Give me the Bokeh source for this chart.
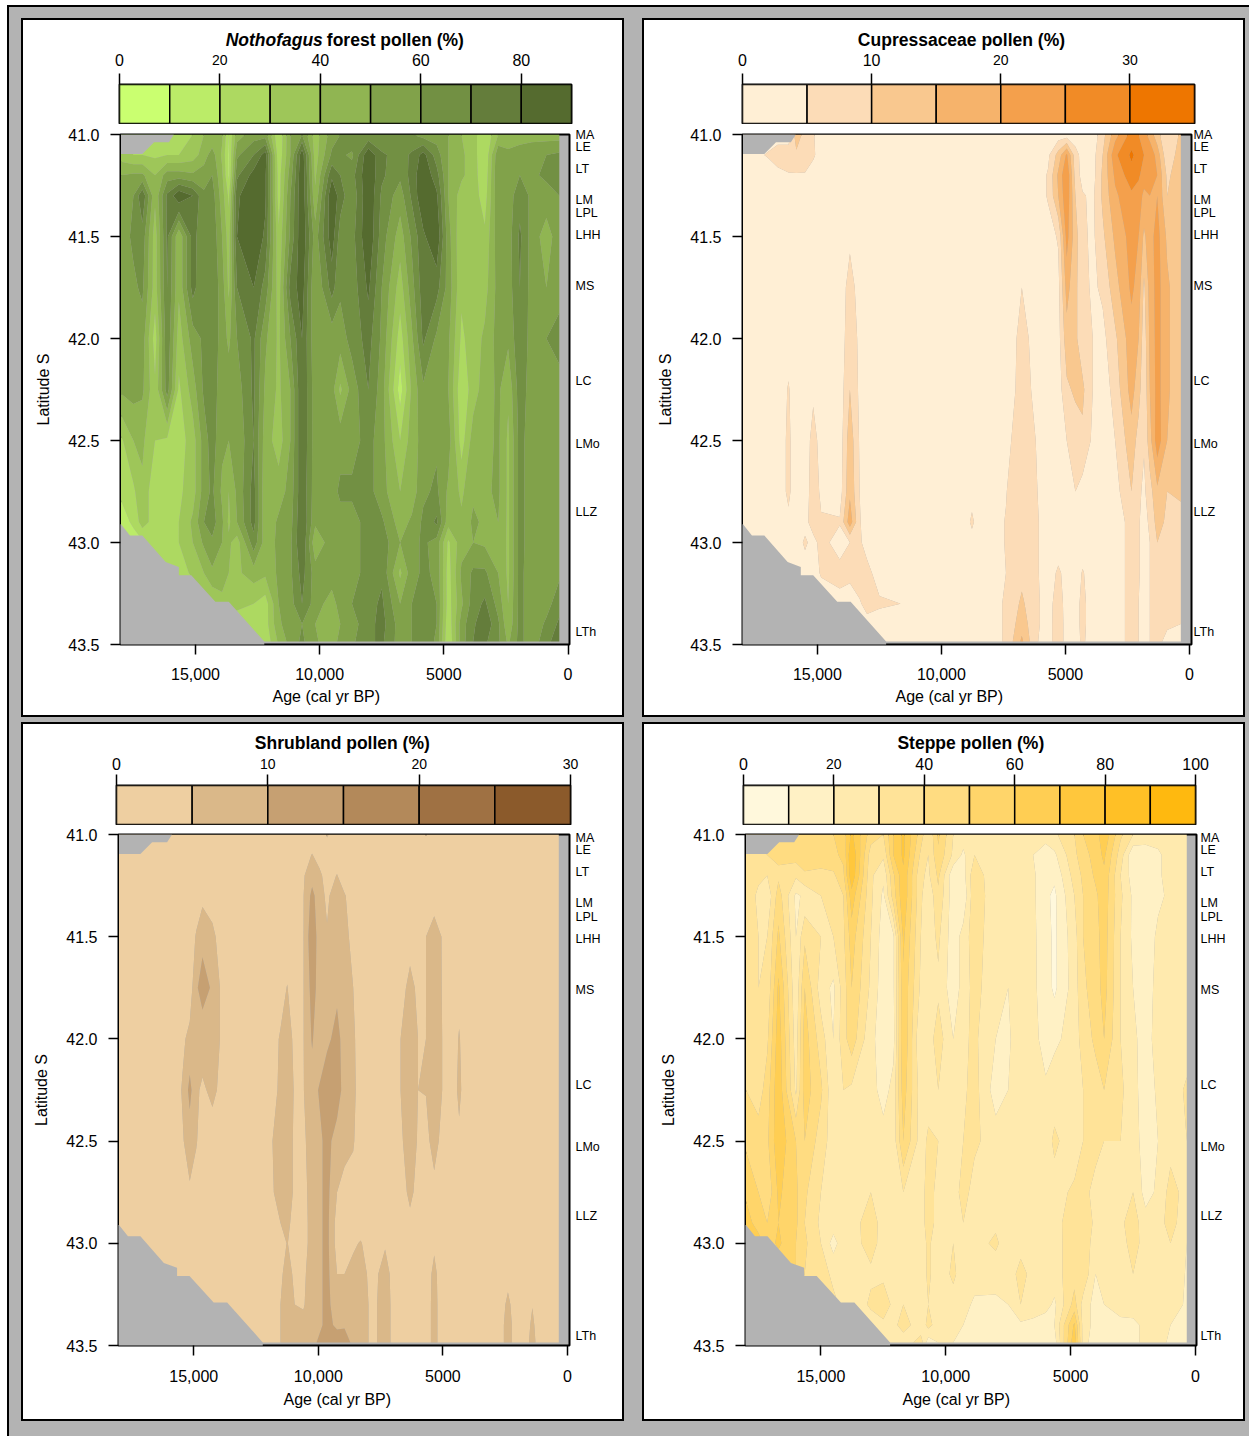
from bokeh.embed import file_html
from bokeh.resources import INLINE
from bokeh.plotting import figure
from bokeh.layouts import column, row
from bokeh.models import Range1d, FixedTicker, LinearAxis, Title
from bokeh.core.properties import value
import numpy as np

n = float("nan")
FONT = "Liberation Sans"
GRAY = "#b3b3b3"

# ---------- latitude rows shared by the data grids ----------
latitudes = [41.0, 41.1, 41.2, 41.3, 41.5, 41.75, 42.0, 42.25, 42.5, 42.75, 42.9, 43.0, 43.15, 43.3, 43.4, 43.485]

# ---------- Nothofagus forest pollen (%), one row per latitude ----------
noth_ages = [18000, 17500, 17140, 16630, 16140, 15670, 15110, 14660, 14330, 13930,
             13660, 13330, 12660, 12190, 11650, 11180, 10710, 10180, 9510, 9170,
             8700, 8040, 7500, 6760, 6290, 5830, 5290, 4820, 4290, 3820,
             3350, 2810, 2410, 1940, 1470, 870, 350]
nothofagus = [
 [30,30,30,30,30,30,30,40,40,42, 20,45,55,55,20,50,60,35,55,60, 70,62,60,60,60,55,55,50,40,35, 20,40,45,45,45,45,45],
 [35,30,30,28,30,30,35,45,55,38, 18,58,70,85,22,50,87,35,62,62, 58,88,72,65,72,84,65,50,42,35, 20,58,52,55,58,60,62],
 [50,52,52,40,55,55,52,55,60,42, 18,68,84,82,25,55,89,38,78,70, 66,89,72,62,74,89,74,50,42,35, 22,60,52,60,58,62,68],
 [56,60,78,42,72,88,80,62,65,45, 28,78,89,82,25,60,89,42,89,75, 62,89,68,55,72,89,82,50,35,35, 25,58,55,66,58,56,60],
 [55,62,66,35,72,42,74,62,68,50, 35,80,89,78,32,62,89,55,86,65, 66,89,65,45,62,78,89,54,32,32, 32,56,55,72,56,45,56],
 [52,58,62,35,70,42,74,60,68,55, 38,70,80,66,35,74,85,50,74,62, 64,82,60,35,56,76,74,56,32,32, 36,54,55,70,56,50,58],
 [52,54,55,25,68,35,55,62,68,55, 48,60,72,52,38,60,80,52,54,55, 64,74,58,25,48,72,58,52,28,35, 42,54,52,68,56,60,62],
 [52,54,52,32,65,28,45,62,68,52, 55,55,72,48,38,50,80,54,54,38, 54,70,55,15,42,58,54,50,22,35, 45,52,42,66,55,58,58],
 [28,40,42,30,28,25,35,55,65,52, 50,52,70,45,35,50,80,54,56,56, 56,64,54,30,45,54,58,55,25,45, 46,52,38,64,54,56,58],
 [22,28,38,22,25,28,35,55,62,48, 40,52,74,42,45,54,78,54,56,62, 62,64,54,40,44,58,62,48,38,48, 48,52,38,64,54,56,58],
 [15,22,35,25,30,30,42,60,65,52, 38,50,74,42,52,56,80,52,55,56, 56,64,62,45,52,62,72,44,42,52, 48,50,38,64,54,56,58],
 [15,15,18,25,28,30,40,52,58,50, 42,35,66,45,52,58,80,42,56,56, 56,64,66,50,56,62,56,28,46,50, 48,48,38,64,54,56,58],
 [n,n,15,15,18,25,32,40,48,48, 40,38,45,42,52,58,74,55,56,52, 56,64,68,38,56,62,58,25,52,62, 62,50,38,64,52,56,58],
 [n,n,n,n,15,15,20,25,30,35, 38,35,30,25,50,56,70,55,45,55, 60,66,72,50,60,64,60,25,48,65, 72,56,40,64,52,56,66],
 [n,n,n,n,n,n,n,15,15,15, 18,20,22,25,48,56,60,50,42,50, 56,66,74,55,60,66,60,22,55,68, 78,62,42,64,52,62,72],
 [n,n,n,n,n,n,n,n,15,15, 15,15,18,22,42,54,62,52,42,55, 58,68,72,55,60,68,58,20,55,70, 72,62,48,64,52,68,74],
]

# ---------- Steppe pollen (%), one row per latitude ----------
steppe_ages = [18000, 17500, 17150, 16700, 16000, 15650, 15000, 14500, 14100, 13770,
               13000, 12500, 12100, 11700, 11000, 10700, 10300, 9700, 9300, 8850,
               8000, 7500, 7000, 6500, 6000, 5650, 4850, 4500, 4000, 3660,
               3000, 2500, 2000, 1500, 1000, 500, 350]
steppe = [
 [42,42,42,42,42,45,48,50,55,72, 45,40,60,72,45,30,52,30,25,22, 25,25,28,28,25,28,40,50,55,68, 42,30,25,25,25,25,25],
 [38,38,40,42,45,48,50,48,52,80, 35,32,60,72,38,30,48,28,18,30, 20,22,26,20,14,18,38,45,55,62, 35,12,15,18,25,25,25],
 [35,32,30,38,32,38,35,38,48,78, 32,22,48,68,32,28,42,12,16,38, 20,22,26,22,12,12,34,42,52,58, 30,15,14,18,25,28,30],
 [36,28,22,45,18,22,30,38,40,66, 32,18,45,68,32,22,38,14,12,38, 22,22,26,22,12,8,30,40,48,56, 32,18,14,18,22,22,22],
 [35,30,30,52,20,38,30,30,38,55, 30,15,18,62,30,25,32,14,24,36, 22,24,28,22,14,8,26,40,46,55, 30,18,14,22,25,25,25],
 [35,30,32,62,22,50,25,18,35,50, 28,14,18,58,28,22,28,14,24,34, 22,20,28,22,15,8,25,38,45,54, 30,20,14,24,25,25,25],
 [38,32,38,66,25,55,35,20,36,46, 22,16,16,60,20,25,35,20,28,32, 20,18,28,24,15,18,24,35,42,50, 30,22,16,24,28,26,24],
 [40,35,45,68,28,55,42,22,30,28, 25,15,24,55,25,25,30,28,28,34, 15,20,28,26,22,25,25,30,36,40, 32,24,14,22,26,30,32],
 [48,45,48,68,50,50,35,25,28,26, 30,25,24,50,25,32,30,24,30,32, 25,26,28,28,25,32,24,30,34,30, 30,28,12,20,26,28,30],
 [58,50,42,62,52,42,30,25,28,25, 30,26,26,30,22,38,24,25,34,26, 26,26,26,28,24,26,32,34,26,22, 28,30,16,22,34,28,30],
 [65,55,50,60,52,40,28,25,20,25, 36,25,26,25,22,38,24,25,30,26, 28,26,26,26,24,25,38,36,28,26, 28,35,24,26,34,26,22],
 [65,65,55,62,50,42,30,16,26,26, 34,26,28,25,25,32,24,30,26,26, 32,24,26,26,24,26,36,38,24,22, 28,32,28,26,30,24,20],
 [n,n,52,52,50,40,34,28,26,24, 28,28,30,28,24,32,24,32,25,25, 24,24,34,26,24,26,36,38,20,24, 28,30,28,24,30,22,18],
 [n,n,n,n,40,36,34,32,28,22, 32,35,28,30,22,30,22,26,24,18, 18,20,30,28,24,18,44,26,16,20, 26,28,26,26,22,20,15],
 [n,n,n,n,n,n,n,28,28,24, 24,28,26,36,22,34,24,24,20,16, 16,18,18,16,14,20,62,26,16,14, 16,16,24,26,20,18,15],
 [n,n,n,n,n,n,n,n,22,22, 22,24,28,22,36,14,20,20,18,15, 14,16,15,14,18,15,68,26,12,14, 15,18,22,24,18,15,15],
]

# ---------- Cupressaceae pollen (%), one column per age ----------
T = [2] * 16  # trace level, no visible signal at this age
cupressaceae = {
 18000: T,
 17000: [2,5.5,2,2,2,2,2,2,2,2,2,2,2,2,2,2],
 16600: [2,8,3,2,2,2,2,2,2,2,2,2,2,2,2,2],
 16165: [2,8,4.5,2,2,2,3,5.4,6,6,4,2,2,2,2,2],
 15850: [13,9,4.5,2,2,2,2,2,2,2,2,2,2,2,2,2],
 15500: [8,8,4.5,2,2,2,2,2,2,2,3,6,2,2,2,2],
 15170: [5.5,6,2,2,2,2,3,4,7,8,8,3,3,2,2,2],
 14850: [2,2,2,2,2,2,2,2,3,4,5.5,7,5.5,2,2,2],
 14100: [2,2,2,2,2,2,2,2,2,2.5,5.5,2.5,7,3,2,2],
 13690: [2,2,2,2,4,7,8,10,13,14,18,5,6,3,2,2],
 13300: [2,2,2,2,2,3,4,4,4.5,5,5.5,6,10,4,2,2],
 13000: [2,2,2,2,2,2,2,2,2,2,2,2.5,7,8,2,2],
 12500: [2,2,2,2,2,2,2,2,2,2,2,2,2,6,2,2],
 9100: T,
 8770: [2,2,2,2,2,2,2,2,2,3,6,3,2,2,2,2],
 8450: T,
 7400: [2,2,2,2,2,2,2,2,3.5,4.8,5.2,5.2,5,5.5,5.5,5.5],
 6760: [2,2,2,2,3,5,6.5,7,8,8.5,9,9,8.5,11,13,16],
 6200: [2,2,2,2,2,2.5,3.5,4,5,5.5,6,6,6,6,6,5.5],
 5700: [2,4,5.5,5.5,3,2,2,2,2,2,2,2,2,3,3,3],
 5290: [2,12,16,15,5.5,3.5,3,2.5,2,2,2,2,6,7.5,8,8],
 4950: [2,21,25,24,22,17,13,9,5,3,2,2,3,3,3,3],
 4600: [2,7,8,10,12,11,11,11,7,5,2,2,2,3,3,3],
 4310: [2,3,3,5.5,6,7,7,11,9,3,2,2,5.5,6.5,6.5,6],
 3900: [2,3,3,4,4,4,5,5,4,2,2,2,2,2,2,2],
 3500: [8,10,11,11,9,6,3.5,2,2,2,2,2,2,2,2,2],
 3000: [18,24,21,19,16,13,9,7,5,3,2,2,2,2,2,2],
 2340: [27,31,28,24,22,21,18,17,13,10,7,7,7,7,7,7],
 2050: [25,28,26,22,20,18,15,12,8,6,5.5,5.5,5.5,5,5,5],
 1835: [22,25,22,19,14,9,7,6,5.5,4,3,3,3,3,3,3],
 1600: [18,24,21,20,18,17,16,15,13,8,6,5,5,5,5,5],
 1300: [12,18,20,20,22,22,22,22,23,14,12,10,6.5,6,6,6],
 900: [5,6,9,10,14,16,16,16,15,10,9,9,7,6,5.5,4],
 350: [11,13,13,12,11,11,11,11,11,11,8,7,6,5.5,5,3],
}

# ---------- Shrubland pollen (%), one column per age ----------
shrubland = {
 18000: T,
 15800: T,
 15450: [2,2,2,2,2,2,4,5.5,4.5,2,2,2,2,2,2,2],
 15160: [2,2,2,2,2,2,6.5,11.5,7.5,4.3,2,2,2,2,2,2],
 14900: [2,2,2,2,5.5,9.5,7,6,5.5,2,2,2,2,2,2,2],
 14650: [2,2,2,3.5,9,11.5,8,4,2,2,2,2,2,2,2,2],
 14250: [2,2,2,2,6.5,9.5,8,6.5,2,2,2,2,2,2,2,2],
 13950: [2,2,2,2,3,5,5,4,2,2,2,2,2,2,2,2],
 12000: [2,2,2,2,2,2,2,2,4,3,2,2,2,2,2,2],
 11520: [2,2,2,2,2,3,5.5,6,7,7.5,5,3,4,5,5,5],
 11250: [2,2,2,2,2,5.2,7,8,8,8,6,5.2,7,8,8,8],
 10950: [2,2,2,2,2,2,4,4.5,4,4,3.5,3,4,5,8,8],
 10600: [2,3,4.5,4.8,4.8,4.8,4.8,4.8,4,3,3,3,4,4.5,6.5,8],
 10250: [2,5.2,8,11.5,14,12,10.5,8,7.5,7.5,7,7,7.5,8,8.5,8.5],
 9950: [2,3,6,7,7,8,6.5,10.5,9,9,9,9,9,9,9,11],
 9650: [5.5,2,3,4,5.5,8,9,13,11.5,11.5,11.5,11.5,11.5,11.5,11.5,13],
 9250: [2,2,5.2,8,8.5,9,11.5,12.5,8,5,3,3,5,7,9,13],
 8950: [2,2,2,5.5,7,8,8,8,7,3,2,2,5,8,9.5,12],
 8600: [2,2,2,2,3,5,6,6.5,5.5,3,2,4,7,7,7,9],
 8300: [2,2,2,2,2,2,2,2,2,2,2,5.5,7,8,8,8],
 8050: [2,2,2,2,2,2,2,2,2,2,2,3,5,5.5,5.5,5.5],
 7800: [2,2,2,2,2,2,2,2,2,2,2,2,3.5,3.5,3.5,3.5],
 7320: [2,2,2,2,2,2,2,2,2,2,2,4.5,7,8,8,8],
 7000: [2,2,2,2,2,2,2,2,2,2,2,2,3.5,3.5,3.5,3.5],
 6700: [2,2,2,2,2,3,5,5,4,2,2,2,2,2,2,2],
 6320: [2,2,2,2,3,6.5,8,8,8,6.5,3.5,2,2,2,2,2],
 6000: [2,2,2,2,2,4,5,5,4.5,3,2,2,2,2,2,2],
 5680: [5.3,2,2,2,5,5,5,5.2,3.5,2,2,2,2,2,2,2],
 5350: [2,2,3,3,7,8,8,8,7,3.5,2,4,6.5,7,7,7],
 5030: [2,2,2,2,4.8,4.8,5,5,3.5,2,2,2,2,2,2,2],
 4600: T,
 4350: [2,2,2,2,2,3,5.5,6.5,3.6,2,2,2,2,2,2,2],
 4100: T,
 2800: T,
 2390: [2,2,2,2,2,2,2,2,2,2,2,2,3.5,6,7,7],
 2000: T,
 1750: T,
 1410: [2,2,2,2,2,2,2,2,2,2,2,2,2,4.8,6,7],
 1100: T,
 350: T,
}

# ---------- areas without records ----------
gap_top_age = [18000, 18000, 17140, 16670, 16070, 15870]
gap_top_lat = [41.0, 41.095, 41.095, 41.038, 41.038, 41.0]
gap_low_age = [18100, 18100, 18000, 17640, 17140, 16200, 15670, 15670, 15170, 14200, 13660, 12230, 12230]
gap_low_lat = [43.6, 42.91, 42.91, 42.966, 42.966, 43.096, 43.12, 43.16, 43.16, 43.29, 43.29, 43.485, 43.6]

# ---------- tick labels and sites ----------
lat_ticks = [41.0, 41.5, 42.0, 42.5, 43.0, 43.5]
lat_tick_labels = ["41.0", "41.5", "42.0", "42.5", "43.0", "43.5"]
age_ticks = [15000, 10000, 5000, 0]
age_tick_labels = ["15,000", "10,000", "5000", "0"]
site_lats = [41.0, 41.06, 41.167, 41.32, 41.387, 41.495, 41.745, 42.21, 42.515, 42.85, 43.44]
site_lats_lower = [41.015, 41.075, 41.182, 41.335, 41.402, 41.51, 41.76, 42.225, 42.53, 42.865, 43.455]
site_names = ["MA", "LE", "LT", "LM", "LPL", "LHH", "MS", "LC", "LMo", "LLZ", "LTh"]

# ---------- colour scales ----------
noth_levels = [0, 10, 20, 30, 40, 50, 60, 70, 80, 90]
noth_colors = ["#caff70", "#bbec68", "#add961", "#9ec659", "#90b552", "#81a24a", "#729043", "#647d3b", "#556b2f"]
cup_levels = [0, 5, 10, 15, 20, 25, 30, 35]
cup_colors = ["#ffefd5", "#fcdcb7", "#f9c88f", "#f6b36b", "#f4a04c", "#f18b26", "#ee7600"]
shrub_levels = [0, 5, 10, 15, 20, 25, 30]
shrub_colors = ["#eecfa1", "#dab889", "#c6a072", "#b3895a", "#9f7143", "#8b5a2b"]
steppe_levels = [0, 10, 20, 30, 40, 50, 60, 70, 80, 90, 100]
steppe_colors = ["#fff8dc", "#fff1c5", "#ffeaae", "#ffe398", "#ffdc81", "#ffd56a", "#ffce53", "#ffc73c", "#ffc026", "#ffb90f"]


def grid_from_rows(ages, rows):
    return np.array(ages[::-1], float), np.array(rows, float)[:, ::-1]


def grid_from_cols(cols):
    a = sorted(cols)
    return np.array(a, float), np.array([cols[k] for k in a], float).T


def build(title_parts, levels, colors, ages, z, big, small, c):
    bar_w = 600 - c["bar_l"] - c["bar_r"]
    per_px = levels[-1] / bar_w
    # header strip: title and colour-scale labels, on the colour bar's own x scale
    h = figure(width=600, height=c["head_h"], x_range=Range1d(-c["bar_l"] * per_px, (600 - c["bar_l"]) * per_px),
               y_range=Range1d(c["head_h"], 0), x_axis_location=None, y_axis_location=None, toolbar_location=None,
               output_backend="svg", min_border=0, min_border_left=0, min_border_right=0, min_border_top=0,
               min_border_bottom=0, outline_line_color=None, border_fill_color="white", background_fill_color="white")
    h.xgrid.visible = False
    h.ygrid.visible = False
    h.text(x=big, y=[c["tick_cy"]] * len(big), text=[str(t) for t in big], text_font=value(FONT),
           text_font_size="16px", text_color="black", text_align="center", text_baseline="middle")
    h.text(x=small, y=[c["tick_cy"]] * len(small), text=[str(t) for t in small], text_font=value(FONT),
           text_font_size="14px", text_color="black", text_align="center", text_baseline="middle")
    for text, style, align, off in title_parts:
        h.text(x=[levels[-1] * c["title_x"] + off * per_px], y=[c["title_cy"]], text=[text], text_font=value(FONT),
               text_font_size="17.5px", text_font_style=style, text_color="black", text_align=align,
               text_baseline="middle")

    top = figure(width=600, height=52, x_range=Range1d(levels[0], levels[-1]), y_range=Range1d(0, 1),
                 x_axis_location="above", y_axis_location=None, toolbar_location=None, output_backend="svg",
                 min_border_left=c["bar_l"], min_border_right=c["bar_r"], min_border_top=12,
                 min_border_bottom=1, outline_line_color="black", outline_line_width=2,
                 border_fill_color="white")
    top.xgrid.visible = False
    top.ygrid.visible = False
    top.quad(left=levels[:-1], right=levels[1:], bottom=0, top=1, fill_color=colors, line_color="black", line_width=1.5)
    ticks = big + small
    ax = top.xaxis[0]
    ax.ticker = FixedTicker(ticks=ticks)
    ax.major_label_overrides = {t: "" for t in ticks}
    ax.axis_line_color = None
    ax.major_tick_in = 0
    ax.major_tick_out = 11
    ax.major_tick_line_width = 1.5
    ax.major_tick_line_color = "black"
    ax.minor_tick_line_color = None
    ax.major_label_standoff = 0
    ax.major_label_text_font_size = "1px"

    p = figure(width=600, height=c["main_h"], x_range=Range1d(18020, c["right"]), y_range=Range1d(43.5, 41.0),
               toolbar_location=None, output_backend="svg", min_border_left=c["main_l"], min_border_right=c["main_r"],
               min_border_top=c["main_t"], min_border_bottom=c["main_b"], background_fill_color=GRAY,
               border_fill_color="white", outline_line_color="black", outline_line_width=2)
    p.xgrid.visible = False
    p.ygrid.visible = False
    p.contour(ages, np.array(latitudes), z, levels, fill_color=colors, line_color=None)
    p.patch(gap_top_age, gap_top_lat, fill_color=GRAY, line_color=None)
    p.patch(gap_low_age, gap_low_lat, fill_color=GRAY, line_color=None)

    xa, ya = p.xaxis[0], p.yaxis[0]
    xa.ticker = FixedTicker(ticks=age_ticks)
    xa.major_label_overrides = dict(zip(age_ticks, age_tick_labels))
    ya.ticker = FixedTicker(ticks=lat_ticks)
    ya.major_label_overrides = dict(zip(lat_ticks, lat_tick_labels))
    ya.major_label_orientation = "horizontal"
    ya.axis_label = "Latitude S"
    for a in (xa, ya):
        a.axis_line_color = None
        a.major_tick_in = 0
        a.major_tick_out = 10
        a.major_tick_line_width = 1.5
        a.major_tick_line_color = "black"
        a.minor_tick_line_color = None
        a.major_label_standoff = 11
        a.major_label_text_font = FONT
        a.major_label_text_font_size = "16px"
        a.major_label_text_color = "black"
        a.axis_label_text_font = FONT
        a.axis_label_text_font_size = "16px"
        a.axis_label_text_font_style = "normal"
        a.axis_label_text_color = "black"
    xa.major_label_standoff = c["xtick_gap"]
    ya.axis_label_standoff = 13
    # the x axis title sits left of the frame's centre in the reference, so it is a positioned title
    p.add_layout(Title(text="Age (cal yr BP)", align="left", offset=c["xlab_off"], standoff=c["xlab_gap"],
                       text_font=FONT, text_font_size="16px", text_font_style="normal", text_color="black"), "below")

    sites = c["sites"]
    ra = LinearAxis(ticker=FixedTicker(ticks=sites), major_label_overrides=dict(zip(sites, site_names)))
    ra.axis_line_color = None
    ra.major_tick_line_color = None
    ra.minor_tick_line_color = None
    ra.major_tick_in = 0
    ra.major_tick_out = 0
    ra.major_label_standoff = c["site_off"]
    ra.major_label_text_font = FONT
    ra.major_label_text_font_size = "12.5px"
    ra.major_label_text_color = "black"
    p.add_layout(ra, "right")

    # each figure in a row of its own, so that the column does not line up their frames
    return column(row(h, width=600, height=c["head_h"]), row(top, width=600, height=52),
                  row(p, width=600, height=c["main_h"]), spacing=0, width=603, height=699,
                  styles={"background": "white", "border": "2px solid black", "box-sizing": "border-box"})


top_cfg = dict(head_h=52, tick_cy=39, title_cy=19, main_h=590, main_t=10, main_b=70, xlab_gap=7, xtick_gap=13,
               sites=site_lats)
low_cfg = dict(head_h=49, tick_cy=39, title_cy=18, main_h=594, main_t=9, main_b=74, xlab_gap=9, xtick_gap=14,
               sites=site_lats_lower)

a_noth, z_noth = grid_from_rows(noth_ages, nothofagus)
a_cup, z_cup = grid_from_cols(cupressaceae)
a_shrub, z_shrub = grid_from_cols(shrubland)
a_steppe, z_steppe = grid_from_rows(steppe_ages, steppe)

p1 = build([("Nothofagus", "bold italic", "right", 0), ("forest pollen (%)", "bold", "left", 4)],
           noth_levels, noth_colors, a_noth, z_noth, [0, 40, 60, 80], [20],
           dict(top_cfg, bar_l=96, bar_r=51, main_l=97, main_r=53, right=-60, title_x=0.45, site_off=6, xlab_off=152))
p2 = build([("Cupressaceae pollen (%)", "bold", "center", 0)],
           cup_levels, cup_colors, a_cup, z_cup, [0, 10], [20, 30],
           dict(top_cfg, bar_l=98, bar_r=49, main_l=98, main_r=52, right=-80, title_x=0.4845, site_off=2, xlab_off=153))
p3 = build([("Shrubland pollen (%)", "bold", "center", 0)],
           shrub_levels, shrub_colors, a_shrub, z_shrub, [0], [10, 20, 30],
           dict(low_cfg, bar_l=93, bar_r=52, main_l=95, main_r=53, right=-80, title_x=0.4975, site_off=6, xlab_off=165))
p4 = build([("Steppe pollen (%)", "bold", "center", 0)],
           steppe_levels, steppe_colors, a_steppe, z_steppe, [0, 40, 60, 80, 100], [20],
           dict(low_cfg, bar_l=99, bar_r=48, main_l=101, main_r=47, right=-40, title_x=0.503, site_off=4, xlab_off=157))

row1 = row(p1, p2, spacing=18, margin=(11, 0, 0, 12))
row2 = row(p3, p4, spacing=18, margin=(5, 0, 0, 12))
page = column(row1, row2, spacing=0, width=1242, height=1431, margin=(5, 0, 0, 7),
              styles={"background": GRAY, "border-left": "2px solid black", "border-top": "2px solid black",
                      "box-sizing": "border-box"})

open("out.html", "w").write(file_html(page, INLINE))
